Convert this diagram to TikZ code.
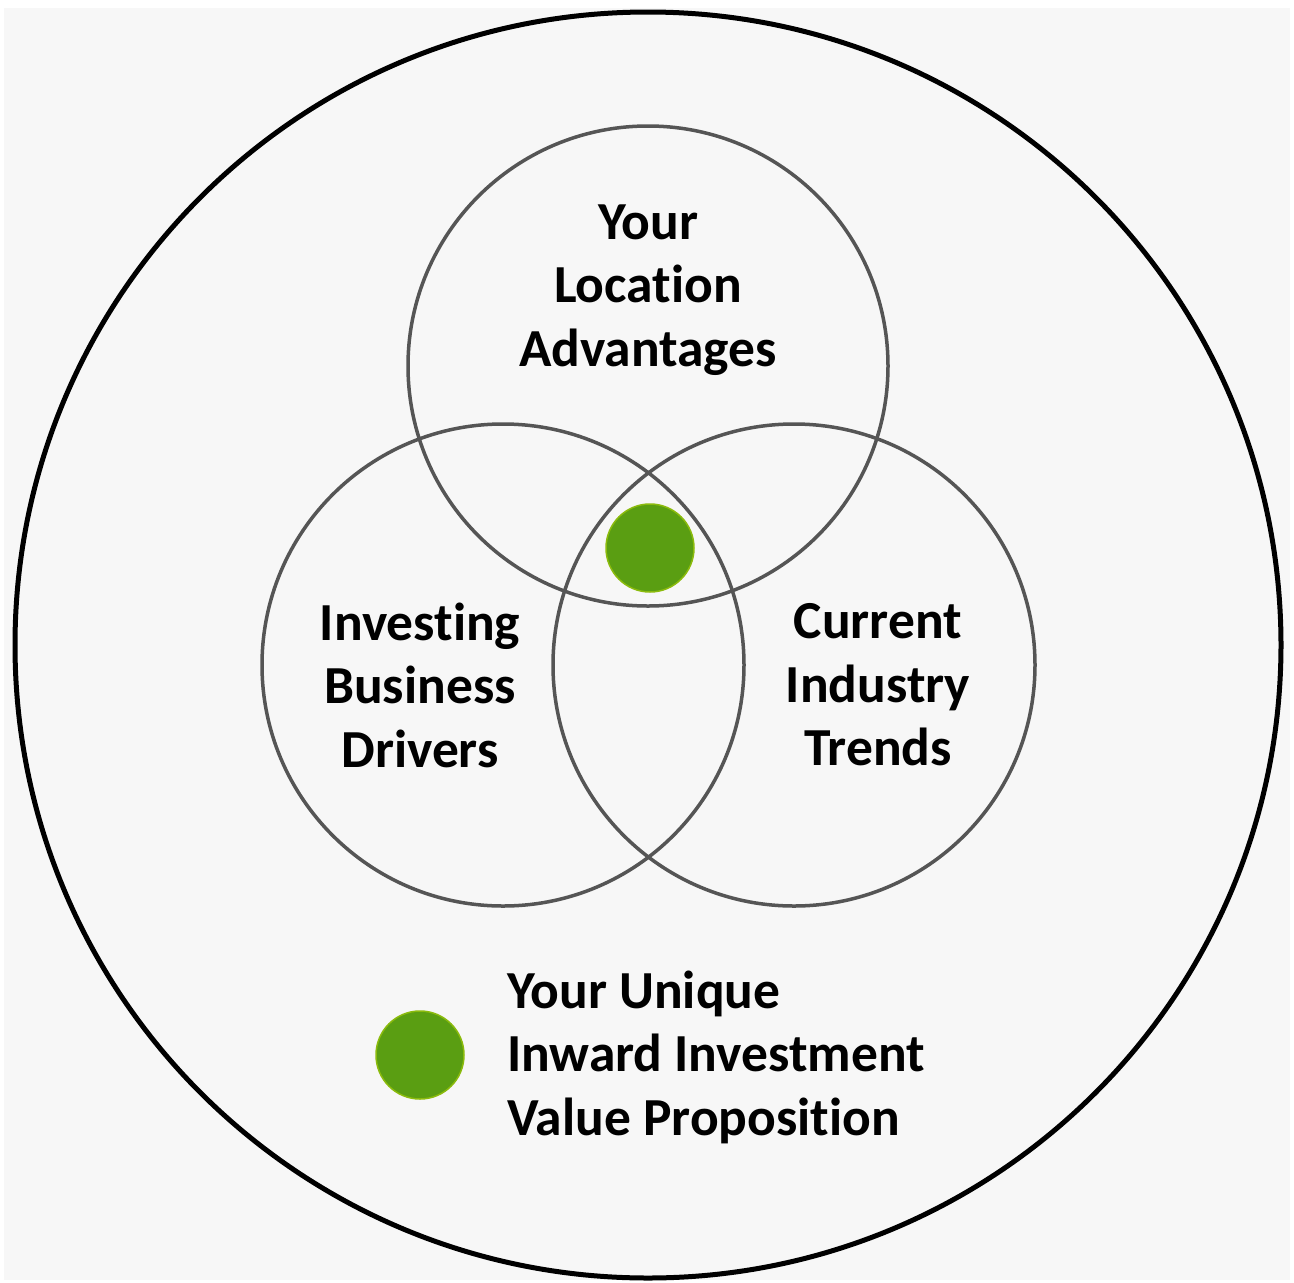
\documentclass[tikz,border=0pt]{standalone}
\usepackage{fontspec}
\setmainfont{Carlito}[Ligatures={NoCommon}]
\definecolor{bgc}{HTML}{F7F7F7}
\definecolor{ringc}{HTML}{555555}
\definecolor{dotc}{HTML}{5A9E12}
\tikzset{
  ring/.style={draw=ringc,line width=3.5pt},
  lbl/.style={font=\fontsize{53.5}{63.5}\selectfont\bfseries,align=center,text=black,inner sep=0pt},
  dot/.style={circle,fill=dotc,draw=dotc!70!yellow,line width=1.5pt,minimum size=88pt,inner sep=0pt}
}
\begin{document}
\begin{tikzpicture}[x=1pt,y=-1pt]
\useasboundingbox (0,0) rectangle (1294,1283);
\fill[white] (0,0) rectangle (1294,1283);
\fill[bgc] (4,8) rectangle (1290,1280);
\draw[black,line width=5pt] (648,645) circle (633);
\draw[ring] (648,366) circle (240);
\draw[ring] (503,665) circle (241);
\draw[ring] (794,665) circle (241);
\node[dot] (center) at (650,548) {};
\node[lbl] (top) at (648,290) {Your\\Location\\Advantages};
\node[lbl] (left) at (420,685) {Investing\\Business\\Drivers};
\node[lbl] (right) at (878,685) {Current\\Industry\\Trends};
\node[dot] (legdot) at (420,1055) {};
\node[lbl,align=left,anchor=west] (legend) at (507,1057) {Your Unique\\Inward Investment\\Value Proposition};
\end{tikzpicture}
\end{document}
